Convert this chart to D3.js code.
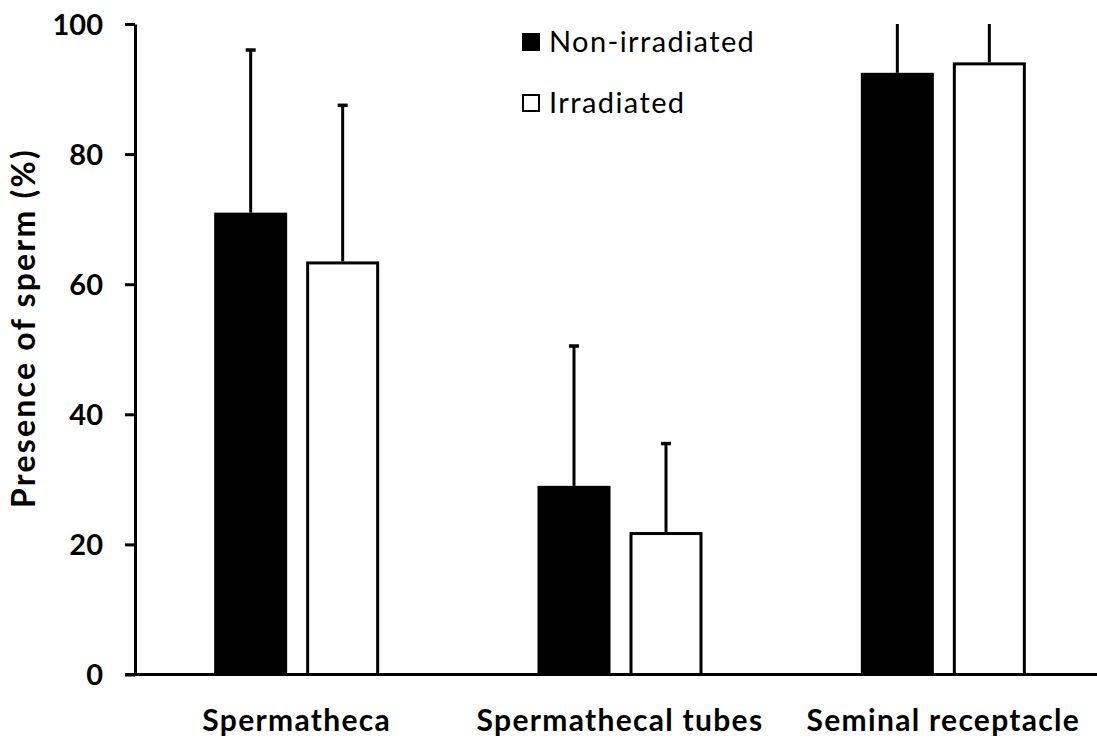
<!DOCTYPE html>
<html>
<head>
<meta charset="utf-8">
<script src="https://cdn.jsdelivr.net/npm/d3@7"></script>
<style>
  body { margin: 0; background: #fff; }
  svg { display: block; }
  text { font-family: Lato, "Open Sans", sans-serif; fill: #000; }
</style>
</head>
<body>
<svg id="chart" width="1097" height="739"></svg>
<script>
// Sperm presence by storage organ, for non-irradiated vs irradiated males
const categories = ["Spermatheca", "Spermathecal tubes", "Seminal receptacle"];
const seriesNames = ["Non-irradiated", "Irradiated"];
const nonIrradiated = [71, 29, 92.5];
const irradiated = [63.5, 21.9, 94.1];
const nonIrradiatedErr = [25, 21.5, 12];
const irradiatedErr = [24, 13.6, 10];
const yTicks = [0, 20, 40, 60, 80, 100];

const svg = d3.select("#chart");
const W = 1097, H = 739;
const plot = { left: 135, right: 1105, top: 24, bottom: 674.5 };

const x0 = d3.scaleBand().domain(categories).range([plot.left, plot.right]).paddingInner(0).paddingOuter(0);
const barW = 73, barGap = 19;
const x1 = d3.scaleOrdinal().domain(seriesNames).range([-(barW + barGap / 2), barGap / 2]);
const y = d3.scaleLinear().domain([0, 100]).range([plot.bottom, plot.top]);

const rows = categories.map((c, i) => ({
  cat: c,
  vals: [
    { s: seriesNames[0], v: nonIrradiated[i], e: nonIrradiatedErr[i] },
    { s: seriesNames[1], v: irradiated[i], e: irradiatedErr[i] }
  ]
}));

svg.append("defs").append("clipPath").attr("id", "plotClip")
  .append("rect").attr("x", 0).attr("y", plot.top).attr("width", W).attr("height", H);

// error bars (drawn behind bars, clipped at the top of the axis)
const eb = svg.append("g").attr("clip-path", "url(#plotClip)");
rows.forEach(r => {
  r.vals.forEach(d => {
    const cx = x0(r.cat) + x0.bandwidth() / 2 + x1(d.s) + barW / 2;
    const top = d.v + d.e;
    eb.append("line")
      .attr("x1", cx).attr("x2", cx)
      .attr("y1", y(d.v)).attr("y2", y(top))
      .attr("stroke", "#000").attr("stroke-width", 3);
    if (top <= 100) {
      eb.append("line")
        .attr("x1", cx - 5).attr("x2", cx + 5)
        .attr("y1", y(top)).attr("y2", y(top))
        .attr("stroke", "#000").attr("stroke-width", 3.5);
    }
  });
});

// bars
const groups = svg.append("g").selectAll("g").data(rows).join("g")
  .attr("transform", r => `translate(${x0(r.cat) + x0.bandwidth() / 2},0)`);
groups.selectAll("rect").data(r => r.vals).join("rect")
  .attr("x", d => x1(d.s) + (d.s === seriesNames[1] ? 1.5 : 0))
  .attr("y", d => y(d.v) + (d.s === seriesNames[1] ? 1.5 : 0))
  .attr("width", d => d.s === seriesNames[1] ? barW - 3 : barW)
  .attr("height", d => y(0) - y(d.v) - (d.s === seriesNames[1] ? 1.5 : 0))
  .attr("fill", d => d.s === seriesNames[0] ? "#000" : "#fff")
  .attr("stroke", d => d.s === seriesNames[1] ? "#000" : "none")
  .attr("stroke-width", 3);

// y axis
const yAxis = svg.append("g").attr("transform", `translate(${plot.left},0)`)
  .call(d3.axisLeft(y).tickValues(yTicks).tickSize(10).tickPadding(22).tickSizeOuter(0));
yAxis.select(".domain").attr("stroke", "#000").attr("stroke-width", 3);
yAxis.selectAll(".tick line").attr("stroke", "#000").attr("stroke-width", 3);
yAxis.selectAll(".tick text")
  .attr("font-family", "Lato, sans-serif").attr("font-size", 29).attr("font-weight", "bold")
  .attr("fill", "#000").attr("dy", "0.36em");

// x axis
const xAxis = svg.append("g").attr("transform", `translate(0,${plot.bottom})`)
  .call(d3.axisBottom(x0).tickSize(0).tickPadding(35));
xAxis.select(".domain").attr("stroke", "#000").attr("stroke-width", 3)
  .attr("d", `M${plot.left - 10},0H${plot.right}`);
xAxis.selectAll(".tick text")
  .attr("font-family", "Lato, sans-serif").attr("font-size", 30).attr("font-weight", "bold")
  .attr("letter-spacing", "1.3px")
  .attr("fill", "#000");

// y axis title
svg.append("text")
  .attr("transform", "translate(35,328) rotate(-90)")
  .attr("text-anchor", "middle")
  .attr("font-size", 32).attr("font-weight", "bold")
  .attr("letter-spacing", "2.2px")
  .text("Presence of sperm (%)");

// legend
const legend = svg.append("g").attr("transform", "translate(522,33)");
seriesNames.forEach((s, i) => {
  const g = legend.append("g").attr("transform", `translate(0,${i * 61})`);
  g.append("rect")
    .attr("x", i === 1 ? 1 : 0).attr("y", i === 1 ? 1 : 0)
    .attr("width", i === 1 ? 16 : 18).attr("height", i === 1 ? 16 : 18)
    .attr("fill", i === 0 ? "#000" : "#fff")
    .attr("stroke", i === 1 ? "#000" : "none").attr("stroke-width", 2);
  g.append("text")
    .attr("x", 27).attr("y", 9).attr("dy", "0.36em")
    .attr("font-size", 29)
    .attr("letter-spacing", "1.4px")
    .text(s);
});
</script>
</body>
</html>
